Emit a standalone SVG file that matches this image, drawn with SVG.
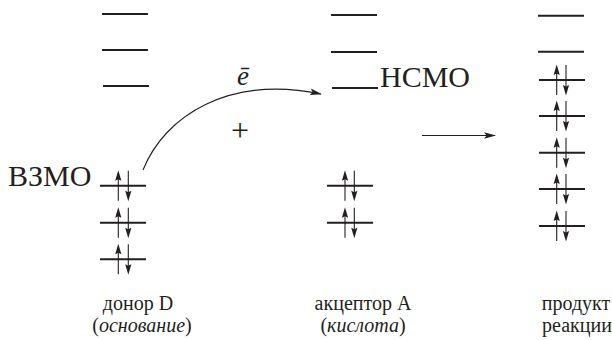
<svg xmlns="http://www.w3.org/2000/svg" width="612" height="340" viewBox="0 0 612 340">
<style>
.lv{stroke:#231f20;stroke-width:2;fill:none}
.sp{stroke:#231f20;stroke-width:1.1;fill:none}
text{font-family:'Liberation Serif','DejaVu Serif',serif;fill:#231f20}
.big{font-size:30px}
.lab{font-size:20px;text-anchor:middle}
.it{font-style:italic}
</style>
<defs>
<marker id="ah" viewBox="0 0 12 8" refX="11" refY="4" markerWidth="12" markerHeight="8" markerUnits="userSpaceOnUse" orient="auto">
<path d="M0,0.8 L12,4 L0,7.2 L2.5,4 Z" fill="#231f20"/>
</marker>
<g id="up">
<line x1="0" y1="15" x2="0" y2="-8" class="sp"/>
<path d="M0,-15.5 L3.1,-5 L0,-6.5 L-3.1,-5 Z" fill="#231f20"/>
</g>
<g id="dn">
<line x1="0" y1="-15" x2="0" y2="8" class="sp"/>
<path d="M0,15.5 L3.1,5 L0,6.5 L-3.1,5 Z" fill="#231f20"/>
</g>
</defs>
<rect width="612" height="340" fill="#fff"/>

<g id="donor">
<line x1="102" y1="14" x2="148" y2="14" class="lv"/>
<line x1="102" y1="50" x2="148" y2="50" class="lv"/>
<line x1="103" y1="86" x2="149" y2="86" class="lv"/>
<line x1="100" y1="185.7" x2="146" y2="185.7" class="lv"/>
<line x1="100" y1="222.7" x2="146" y2="222.7" class="lv"/>
<line x1="100" y1="259.3" x2="146" y2="259.3" class="lv"/>
<use href="#up" x="118.3" y="185.7"/><use href="#dn" x="128.3" y="185.7"/>
<use href="#up" x="118.3" y="222.7"/><use href="#dn" x="128.3" y="222.7"/>
<use href="#up" x="118.3" y="259.3"/><use href="#dn" x="128.3" y="259.3"/>
<text x="8" y="186" class="big">ВЗМО</text>
<text x="138" y="310" class="lab">донор D</text>
<text x="142" y="332" class="lab">(<tspan class="it">основание</tspan>)</text>
</g>

<g id="acceptor">
<line x1="331" y1="15" x2="377" y2="15" class="lv"/>
<line x1="331" y1="52" x2="377" y2="52" class="lv"/>
<line x1="332" y1="88" x2="378" y2="88" class="lv"/>
<line x1="327" y1="185.7" x2="373" y2="185.7" class="lv"/>
<line x1="327" y1="222.7" x2="373" y2="222.7" class="lv"/>
<use href="#up" x="345" y="185.7"/><use href="#dn" x="354.3" y="185.7"/>
<use href="#up" x="345" y="222.7"/><use href="#dn" x="354.3" y="222.7"/>
<text x="380" y="87" class="big">НСМО</text>
<text x="363" y="310" class="lab">акцептор A</text>
<text x="363" y="332" class="lab">(<tspan class="it">кислота</tspan>)</text>
</g>

<g id="product">
<line x1="538" y1="15.7" x2="584" y2="15.7" class="lv"/>
<line x1="538" y1="51.7" x2="584" y2="51.7" class="lv"/>
<line x1="539" y1="80" x2="585" y2="80" class="lv"/>
<line x1="539" y1="116" x2="585" y2="116" class="lv"/>
<line x1="539" y1="152.7" x2="585" y2="152.7" class="lv"/>
<line x1="539" y1="189" x2="585" y2="189" class="lv"/>
<line x1="539" y1="226" x2="585" y2="226" class="lv"/>
<use href="#up" x="556.7" y="80"/><use href="#dn" x="566" y="80"/>
<use href="#up" x="556.7" y="116"/><use href="#dn" x="566" y="116"/>
<use href="#up" x="556.7" y="152.7"/><use href="#dn" x="566" y="152.7"/>
<use href="#up" x="556.7" y="189"/><use href="#dn" x="566" y="189"/>
<use href="#up" x="556.7" y="226"/><use href="#dn" x="566" y="226"/>
<text x="576" y="310" class="lab">продукт</text>
<text x="577" y="332" class="lab">реакции</text>
</g>

<g id="connectors">
<path d="M143,170 C165,115 230,75 321,94" class="sp" marker-end="url(#ah)"/>
<line x1="422" y1="135.5" x2="495" y2="135.5" class="sp" marker-end="url(#ah)"/>
</g>
<g id="labels">
<text x="237" y="85" class="it" font-size="27">ē</text>
<text x="240" y="141" font-size="32" text-anchor="middle">+</text>
</g>
</svg>
